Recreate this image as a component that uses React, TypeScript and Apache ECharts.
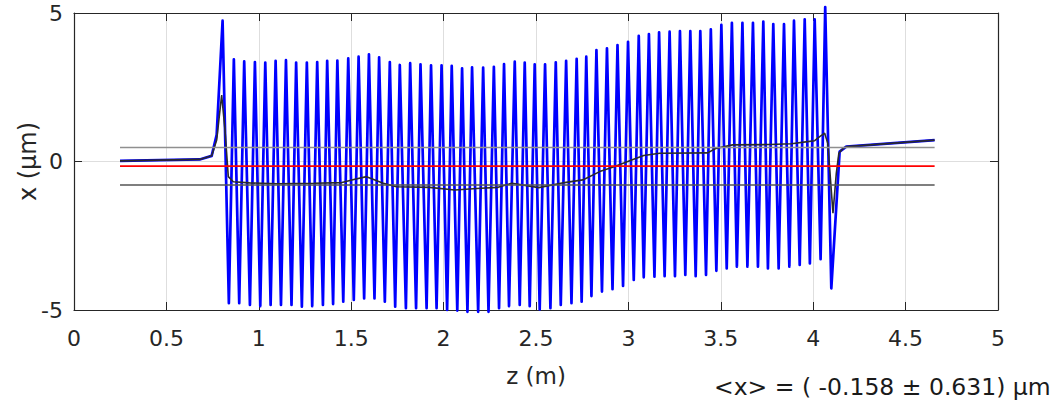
import React, { useEffect, useRef } from "react";
import * as echarts from "echarts";

// z (m) / x (µm) samples of the particle trace (peaks and troughs of the oscillation)
const traceX: [number, number][] = [
  [0.249, 0.02], [0.68, 0.07], [0.745, 0.19], [0.772, 0.9],
  [0.804, 4.74], [0.838, -4.77],
  [0.865, 3.44], [0.894, -4.77],
  [0.921, 3.37], [0.952, -4.83],
  [0.979, 3.35], [1.008, -4.87],
  [1.035, 3.33], [1.064, -4.83],
  [1.091, 3.39], [1.12, -4.83],
  [1.147, 3.41], [1.177, -4.83],
  [1.202, 3.33], [1.233, -4.89],
  [1.26, 3.33], [1.289, -4.87],
  [1.316, 3.35], [1.347, -4.83],
  [1.37, 3.39], [1.402, -4.8],
  [1.425, 3.4], [1.457, -4.72],
  [1.484, 3.47], [1.514, -4.66],
  [1.54, 3.53], [1.57, -4.61],
  [1.596, 3.61], [1.626, -4.61],
  [1.651, 3.51], [1.682, -4.72],
  [1.709, 3.35], [1.738, -4.89],
  [1.763, 3.25], [1.796, -4.94],
  [1.819, 3.31], [1.851, -4.94],
  [1.875, 3.27], [1.908, -4.94],
  [1.932, 3.24], [1.962, -4.94],
  [1.989, 3.24], [2.019, -5.0],
  [2.044, 3.22], [2.074, -5.02],
  [2.1, 3.14], [2.129, -5.06],
  [2.154, 3.17], [2.187, -5.06],
  [2.214, 3.16], [2.243, -5.06],
  [2.272, 3.19], [2.3, -4.94],
  [2.327, 3.28], [2.354, -4.87],
  [2.385, 3.36], [2.412, -4.83],
  [2.439, 3.33], [2.466, -4.87],
  [2.493, 3.27], [2.52, -4.98],
  [2.549, 3.27], [2.578, -4.94],
  [2.607, 3.34], [2.634, -4.83],
  [2.663, 3.39], [2.692, -4.77],
  [2.72, 3.46], [2.747, -4.72],
  [2.772, 3.53], [2.8, -4.53],
  [2.827, 3.75], [2.857, -4.38],
  [2.884, 3.81], [2.914, -4.3],
  [2.941, 3.92], [2.971, -4.19],
  [2.998, 4.03], [3.029, -3.99],
  [3.056, 4.23], [3.083, -3.9],
  [3.111, 4.29], [3.141, -3.88],
  [3.166, 4.35], [3.196, -3.86],
  [3.223, 4.37], [3.252, -3.86],
  [3.279, 4.39], [3.308, -3.82],
  [3.335, 4.39], [3.364, -3.86],
  [3.389, 4.39], [3.42, -3.82],
  [3.446, 4.45], [3.476, -3.68],
  [3.503, 4.6], [3.532, -3.6],
  [3.56, 4.67], [3.587, -3.54],
  [3.617, 4.67], [3.644, -3.54],
  [3.674, 4.67], [3.701, -3.54],
  [3.73, 4.71], [3.755, -3.6],
  [3.784, 4.63], [3.813, -3.6],
  [3.842, 4.63], [3.871, -3.54],
  [3.896, 4.74], [3.927, -3.48],
  [3.954, 4.79], [3.982, -3.43],
  [4.008, 4.79], [4.04, -3.29],
  [4.065, 5.2], [4.098, -4.27],
  [4.143, 0.33], [4.179, 0.5], [4.657, 0.72],
];

// running average of the trace
const averageX: [number, number][] = [
  [0.249, 0.02], [0.68, 0.07], [0.745, 0.19], [0.772, 0.72], [0.799, 2.24],
  [0.817, 1.06], [0.835, -0.51], [0.862, -0.68], [0.95, -0.72], [1.1, -0.75],
  [1.3, -0.73], [1.45, -0.71], [1.52, -0.6], [1.583, -0.51], [1.673, -0.73],
  [1.745, -0.85], [1.925, -0.87], [2.06, -0.96], [2.2, -0.9], [2.295, -0.87],
  [2.37, -0.73], [2.515, -0.88], [2.655, -0.71], [2.753, -0.62], [2.845, -0.34],
  [2.926, -0.17], [3.025, 0.07], [3.083, 0.2], [3.169, 0.28], [3.429, 0.29],
  [3.472, 0.44], [3.564, 0.56], [3.764, 0.57], [3.883, 0.6], [3.97, 0.67],
  [4.008, 0.7], [4.035, 0.84], [4.062, 0.95], [4.079, 0.61], [4.107, -1.74],
  [4.125, -0.4], [4.139, 0.28], [4.161, 0.44], [4.181, 0.5], [4.657, 0.72],
];

const meanX = -0.158;
const stdX = 0.631;
const zRange = [0.249, 4.657];

const X_MIN = 0;
const X_MAX = 5;
const X_STEP = 0.5;
const Y_MIN = -5;
const Y_MAX = 5;
const Y_STEP = 5;

const AXIS_COLOR = "#262626";
const FONT = "DejaVu Sans";

export default function App() {
  const ref = useRef<HTMLDivElement>(null);

  useEffect(() => {
    if (!ref.current) return;
    const chart = echarts.init(ref.current, null, { renderer: "svg" });

    const hLine = (v: number) => zRange.map((z) => [z, v]);

    const baseX = {
      type: "value",
      min: X_MIN,
      max: X_MAX,
      interval: X_STEP,
      axisLine: { show: true, onZero: false, lineStyle: { color: AXIS_COLOR, width: 1.2 } },
      axisTick: { show: true, inside: true, length: 8, lineStyle: { color: AXIS_COLOR } },
    };
    const baseY = {
      type: "value",
      min: Y_MIN,
      max: Y_MAX,
      interval: Y_STEP,
      axisLine: { show: true, onZero: false, lineStyle: { color: AXIS_COLOR, width: 1.2 } },
      axisTick: { show: true, inside: true, length: 8, lineStyle: { color: AXIS_COLOR } },
    };

    chart.setOption({
      animation: false,
      backgroundColor: "#ffffff",
      grid: { left: 74, right: 58, top: 13, bottom: 94 },
      xAxis: [
        {
          ...baseX,
          position: "bottom",
          axisLabel: { color: AXIS_COLOR, fontSize: 22, fontFamily: FONT, margin: 17 },
          splitLine: { show: true, lineStyle: { color: "#dedede", width: 1 } },
          name: "z (m)",
          nameLocation: "middle",
          nameGap: 54,
          nameMoveOverlap: false,
          nameTextStyle: { color: AXIS_COLOR, fontSize: 23, fontFamily: FONT },
        },
        {
          ...baseX,
          position: "top",
          axisLabel: { show: false },
          splitLine: { show: false },
        },
      ],
      yAxis: [
        {
          ...baseY,
          position: "left",
          axisLabel: { color: AXIS_COLOR, fontSize: 22, fontFamily: FONT, margin: 11 },
          splitLine: { show: true, lineStyle: { color: "#dedede", width: 1 } },
          name: "x (µm)",
          nameLocation: "middle",
          nameGap: 34,
          nameMoveOverlap: false,
          nameTextStyle: { color: AXIS_COLOR, fontSize: 24, fontFamily: FONT },
        },
        {
          ...baseY,
          position: "right",
          axisLabel: { show: false },
          splitLine: { show: false },
        },
      ],
      series: [
        {
          type: "line",
          data: traceX,
          symbol: "none",
          clip: false,
          lineStyle: { color: "#0000ff", width: 2.7, join: "round" },
          z: 2,
        },
        {
          type: "line",
          data: averageX,
          symbol: "none",
          lineStyle: { color: "#2b2b2b", width: 1.6 },
          z: 3,
        },
        {
          type: "line",
          data: hLine(meanX + stdX),
          symbol: "none",
          lineStyle: { color: "#8f8f8f", width: 1.6 },
          z: 4,
        },
        {
          type: "line",
          data: hLine(meanX - stdX),
          symbol: "none",
          lineStyle: { color: "#555555", width: 1.4 },
          z: 4,
        },
        {
          type: "line",
          data: hLine(meanX),
          symbol: "none",
          lineStyle: { color: "#ff0000", width: 1.7 },
          z: 5,
        },
      ],
      graphic: [
        {
          type: "text",
          left: 714,
          top: 375,
          style: {
            text: `<x> = ( ${meanX.toFixed(3)} ± ${stdX.toFixed(3)}) µm`,
            fill: "#1a1a1a",
            font: `23.5px "DejaVu Sans"`,
          },
        },
      ],
    });

    return () => chart.dispose();
  }, []);

  return (
    <div
      ref={ref}
      style={{ position: "absolute", left: 0, top: 0, width: 1056, height: 404 }}
    />
  );
}
